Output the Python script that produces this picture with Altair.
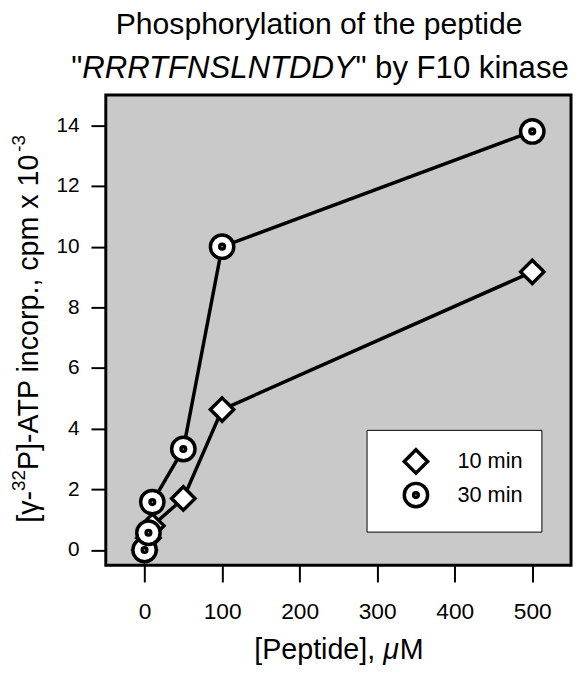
import altair as alt
import pandas as pd

# ---- data ----
peptide_uM = [0, 5, 10, 50, 100, 500]
cpm_10min = [0.0, 0.4, 0.8, 1.7, 4.63, 9.17]
cpm_30min = [0.0, 0.57, 1.58, 3.33, 10.0, 13.8]
series_names = ["10 min", "30 min"]
x_ticks = [0, 100, 200, 300, 400, 500]
y_ticks = [0, 2, 4, 6, 8, 10, 12, 14]

title_line1 = "Phosphorylation of the peptide"
title_line2 = ['"', "RRRTFNSLNTDDY", '" by F10 kinase']
x_title_parts = ["[Peptide], ", "\u03bc", "M"]
y_title_parts = ["[\u03b3-", "32", "P]-ATP incorp., cpm x 10", "-3"]

FONT = "Liberation Sans"

rows = []
for name, vals in zip(series_names, [cpm_10min, cpm_30min]):
    for xv, yv in zip(peptide_uM, vals):
        rows.append({"Peptide": xv, "cpm": yv, "Series": name})
df = pd.DataFrame(rows)

# circle with a dot in the middle (outer ring + tiny inner ring)
k = 0.5523
def circ(r):
    c = round(k * r, 4)
    return (f"M{r},0 C{r},{c} {c},{r} 0,{r} C{-c},{r} {-r},{c} {-r},0 "
            f"C{-r},{-c} {-c},{-r} 0,{-r} C{c},{-r} {r},{-c} {r},0 Z")
dot_circle = circ(1) + " " + circ(0.2)

x_enc = alt.X("Peptide:Q", scale=alt.Scale(domain=[-50, 550], nice=False, zero=False),
              axis=alt.Axis(values=x_ticks, title=None, grid=False, domain=False,
                            tickColor="black", tickWidth=2, tickSize=17,
                            labelFontSize=23, labelPadding=19, labelColor="black"))
y_enc = alt.Y("cpm:Q", scale=alt.Scale(domain=[-0.5, 15], nice=False, zero=False),
              axis=alt.Axis(values=y_ticks, title=None, grid=False, domain=False,
                            tickColor="black", tickWidth=2, tickSize=15,
                            labelFontSize=21, labelPadding=12, labelColor="black"))

base = alt.Chart(df)

lines = base.mark_line(color="black", strokeWidth=3.5).encode(
    x=x_enc, y=y_enc, detail="Series:N")

points = base.mark_point(filled=False, fill="white", stroke="black", strokeWidth=3.5,
                         size=560, opacity=1, fillOpacity=1).encode(
    x="Peptide:Q", y="cpm:Q",
    shape=alt.Shape("Series:N",
                    scale=alt.Scale(domain=series_names, range=["diamond", dot_circle]),
                    legend=alt.Legend(title=None, orient="none", legendX=264, legendY=339,
                                      fillColor="white", strokeColor="black",
                                      padding=18, symbolOffset=18, labelOffset=28,
                                      symbolSize=560, symbolStrokeWidth=3.5,
                                      labelFontSize=22, labelColor="black", rowPadding=-4)))


def txt(s, x, y, size, italic=False, angle=0):
    kw = dict(font=FONT, fontSize=size, align="left", baseline="alphabetic", color="black")
    if italic:
        kw["fontStyle"] = "italic"
    if angle:
        kw["angle"] = angle
    return alt.Chart(pd.DataFrame({"t": [s]})).mark_text(**kw).encode(
        text="t:N", x=alt.value(x), y=alt.value(y))


# title
t1 = alt.Chart(pd.DataFrame({"t": [title_line1]})).mark_text(
    font=FONT, fontSize=30.5, align="center", baseline="alphabetic", color="black"
).encode(text="t:N", x=alt.value(216), y=alt.value(-62))
t2a = txt(title_line2[0], -35, -17, 31.5)
t2b = txt(title_line2[1], -23.8, -17, 31.5, italic=True)
t2c = txt(title_line2[2], 252.7, -17, 31.5)

# x axis title
xa = txt(x_title_parts[0], 150.3, 571, 29)
xb = txt(x_title_parts[1], 280.9, 571, 29, italic=True)
xc = txt(x_title_parts[2], 297.6, 571, 29)

# y axis title (rotated, reads bottom to top), with raised superscripts
ya = txt(y_title_parts[0], -69, 433, 29, angle=270)
yb = txt(y_title_parts[1], -82, 400.8, 19, angle=270)
yc = txt(y_title_parts[2], -69, 379.7, 29, angle=270)
yd = txt(y_title_parts[3], -82, 57.4, 19, angle=270)

chart = alt.layer(lines, points, t1, t2a, t2b, t2c, xa, xb, xc, ya, yb, yc, yd).properties(
    width=471, height=476,
    autosize=alt.AutoSizeParams(type="none"),
    padding={"left": 99, "top": 84, "right": 2, "bottom": 101},
).configure(font=FONT).configure_view(
    fill="#c9c9c9", stroke="black", strokeWidth=3
)

chart.save("out.html", embed_options={"renderer": "svg", "actions": False})
